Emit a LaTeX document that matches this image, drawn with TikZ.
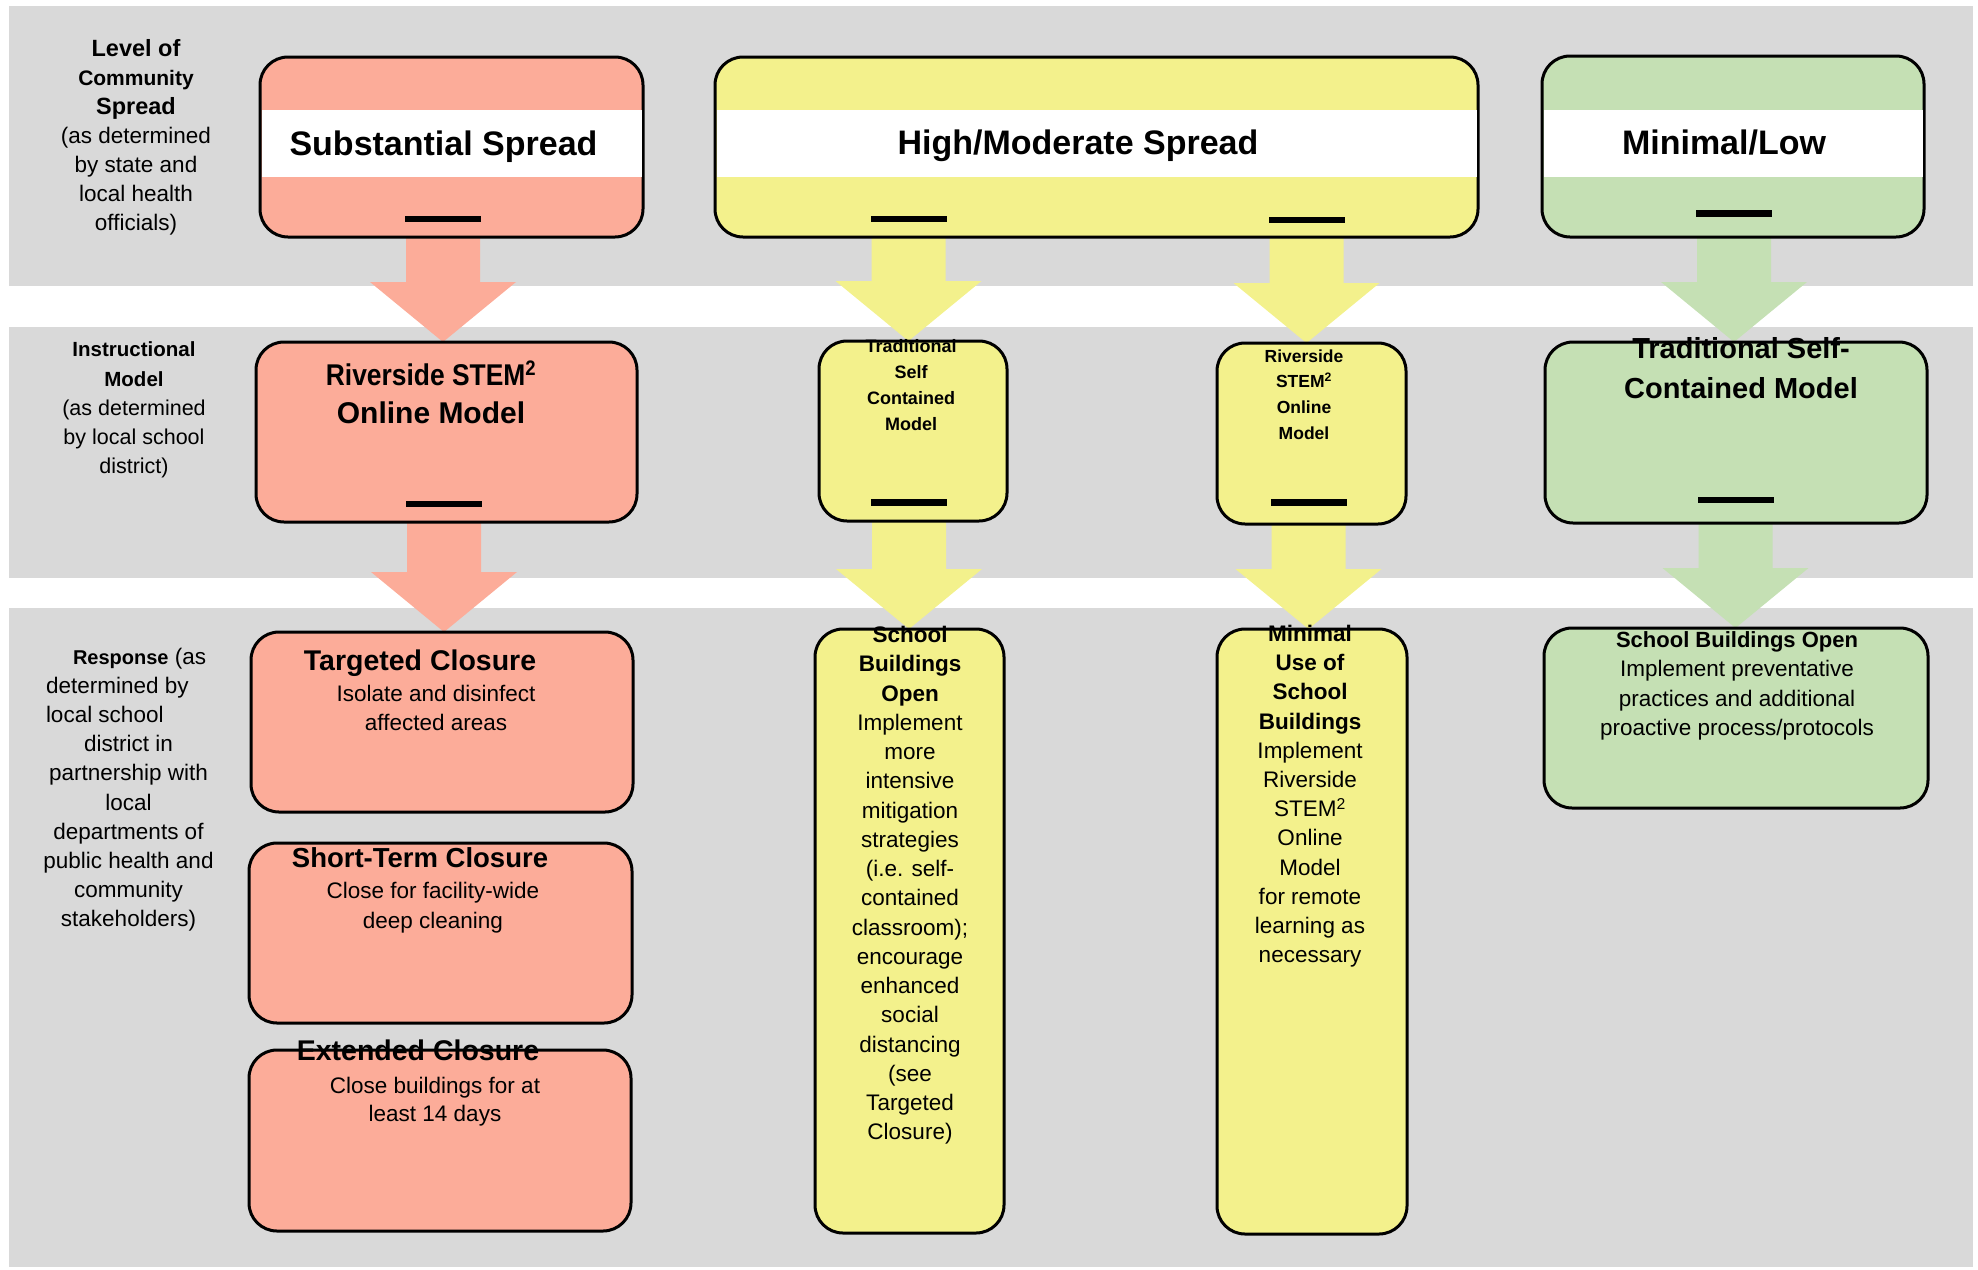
\documentclass[tikz,border=0pt]{standalone}
\usepackage{fontspec}
\setmainfont{Liberation Sans}
\usetikzlibrary{calc}
\definecolor{bandgray}{RGB}{217,217,217}
\definecolor{salmon}{RGB}{252,172,153}
\definecolor{yel}{RGB}{243,241,140}
\definecolor{grn}{RGB}{197,224,180}
\pgfdeclarelayer{back}
\pgfdeclarelayer{arrlayer}
\pgfsetlayers{back,arrlayer,main}
\newcommand{\fs}[2]{\fontsize{#1}{#2}\selectfont}
\newcommand{\mlines}[1]{\begin{tabular}[t]{@{}c@{}}#1\end{tabular}}
\newcommand{\mlinesl}[1]{\begin{tabular}[t]{@{}l@{}}#1\end{tabular}}
\newcommand{\blockarr}[3]{%
  \fill[#1] let \p1=(#2), \p2=(#3) in
    (\x1-37pt,\y1) -- (\x1+37pt,\y1) -- (\x1+37pt,\y2+60pt) -- (\x1+73pt,\y2+60pt)
    -- (\x1,\y2) -- (\x1-73pt,\y2+60pt) -- (\x1-37pt,\y2+60pt) -- cycle;}
\tikzset{
  box/.style={rectangle, draw=black, line width=3pt, rounded corners=28pt, inner sep=0pt, outer sep=0pt},
  barmark/.style={rectangle, fill=black, inner sep=0pt, outer sep=0pt, minimum width=76pt, minimum height=6.5pt},
  txt/.style={inner sep=0pt, outer sep=0pt, anchor=base},
  txtl/.style={inner sep=0pt, outer sep=0pt, anchor=base west}
}
\begin{document}
\begin{tikzpicture}[x=1pt,y=-1pt]
\useasboundingbox (0,0) rectangle (1978,1269);
\begin{pgfonlayer}{back}
\fill[bandgray] (9,6) rectangle (1973,286);
\fill[bandgray] (9,327) rectangle (1973,578);
\fill[bandgray] (9,608) rectangle (1973,1267);
\end{pgfonlayer}

% top row
\node[box, fill=salmon, minimum width=383pt, minimum height=180pt] (ss) at (451.5,147) {};
\node[box, fill=yel, minimum width=763pt, minimum height=180pt] (hm) at (1096.5,147) {};
\node[box, fill=grn, minimum width=382pt, minimum height=181pt] (ml) at (1733,146.5) {};
\fill[white] (261.5,110) rectangle (641.5,177);
\fill[white] (716.5,110) rectangle (1476.5,177);
\fill[white] (1543.5,110) rectangle (1922.5,177);

% middle row
\node[box, fill=salmon, minimum width=381pt, minimum height=180pt] (rso) at (446.5,432) {};
\node[box, fill=yel, minimum width=188pt, minimum height=180pt] (tsc) at (913,431) {};
\node[box, fill=yel, minimum width=189pt, minimum height=181pt] (rsy) at (1311.5,433.5) {};
\node[box, fill=grn, minimum width=382pt, minimum height=181pt] (gtsc) at (1736,432.5) {};

% bottom row
\node[box, fill=salmon, minimum width=382pt, minimum height=180pt] (tc) at (442,722) {};
\node[box, fill=salmon, minimum width=383pt, minimum height=180pt] (stc) at (440.5,933) {};
\node[box, fill=salmon, minimum width=382pt, minimum height=181pt] (ec) at (440,1140.5) {};
\node[box, fill=yel, minimum width=189pt, minimum height=604pt] (sbo) at (909.5,931) {};
\node[box, fill=yel, minimum width=190pt, minimum height=605pt] (mus) at (1312,931.5) {};
\node[box, fill=grn, minimum width=384pt, minimum height=180pt] (gsbo) at (1736,718) {};

% bars
\node[barmark] (bss) at (443,219) {};
\node[barmark] (bhma) at (908.5,219) {};
\node[barmark] (bhmb) at (1306.5,220) {};
\node[barmark] (bml) at (1734,213.5) {};
\node[barmark] (brso) at (444,504) {};
\node[barmark] (btsc) at (909,502.5) {};
\node[barmark] (brsy) at (1308.5,502.5) {};
\node[barmark] (bgtsc) at (1735.5,500) {};

% block arrows
\begin{pgfonlayer}{arrlayer}
\blockarr{salmon}{bss}{rso.north}
\blockarr{yel}{bhma}{tsc.north}
\blockarr{yel}{bhmb}{rsy.north}
\blockarr{grn}{bml}{gtsc.north}
\blockarr{salmon}{brso}{tc.north}
\blockarr{yel}{btsc}{sbo.north}
\blockarr{yel}{brsy}{mus.north}
\blockarr{grn}{bgtsc}{gsbo.north}
\end{pgfonlayer}

% top titles
\node[txt, font=\fs{34}{40}\bfseries] (tss) at (443.5,155) {Substantial Spread};
\node[txt, font=\fs{34}{40}\bfseries] (thm) at (1078,154.5) {High/Moderate Spread};
\node[txt, font=\fs{34}{40}\bfseries] (tml) at (1724,154.5) {Minimal/Low};

% middle texts
\node[txt, font=\fs{30}{38}\bfseries] (trso) at (431,385) {\mlines{\scalebox{0.88}[1]{Riverside STEM\textsuperscript{2}}\\Online Model}};
\node[txt, font=\fs{18}{26}\bfseries] (ttsc) at (911,352) {\mlines{Traditional\\Self\\Contained\\Model}};
\node[txt, font=\fs{17.5}{25.7}\bfseries] (trsy) at (1304,362) {\mlines{Riverside\\STEM\textsuperscript{2}\\Online\\Model}};
\node[txt, font=\fs{29}{40}\bfseries] (tgtsc) at (1741,358) {\mlines{Traditional Self-\\Contained Model}};

% bottom texts
\node[txt, font=\fs{28.5}{32}\bfseries] (ttc) at (420,670) {Targeted Closure};
\node[txt, font=\fs{22.5}{29}] (btc) at (436,701.5) {\mlines{Isolate and disinfect\\affected areas}};
\node[txt, font=\fs{27.5}{32}\bfseries] (tstc) at (420,867) {Short-Term Closure};
\node[txt, font=\fs{22.5}{29.5}] (bstc) at (433,898.6) {\mlines{Close for facility-wide\\deep cleaning}};
\node[txt, font=\fs{28.5}{32}\bfseries] (tec) at (418,1060) {Extended Closure};
\node[txt, font=\fs{22.5}{28.5}] (bec) at (435,1093) {\mlines{Close buildings for at\\least 14 days}};

\node[txt, font=\fs{22.5}{29.24}] (tsbo) at (910,642.7) {\mlines{\textbf{School}\\\textbf{Buildings}\\\textbf{Open}\\Implement\\more\\intensive\\mitigation\\strategies\\(i.e. self-\\contained\\classroom);\\encourage\\enhanced\\social\\distancing\\(see\\Targeted\\Closure)}};
\node[txt, font=\fs{22.5}{29.2}] (tmus) at (1310,641.4) {\mlines{\textbf{Minimal}\\\textbf{Use of}\\\textbf{School}\\\textbf{Buildings}\\Implement\\Riverside\\STEM\textsuperscript{2}\\Online\\Model\\for remote\\learning as\\necessary}};
\node[txt, font=\fs{22.5}{29.2}] (tgsbo) at (1737,647.7) {\mlines{{\fs{22}{29.2}\bfseries School Buildings Open}\\Implement preventative\\practices and additional\\proactive process/protocols}};

% left labels
\node[txt, font=\fs{22.5}{29}] (lab1) at (136,56) {\mlines{{\fs{23.5}{29}\bfseries Level of}\\{\fs{21}{29}\bfseries Community}\\{\fs{23.5}{29}\bfseries Spread}\\(as determined\\by state and\\local health\\officials)}};
\node[txt, font=\fs{21.5}{29.3}] (lab2) at (134,356.7) {\mlines{{\fs{20.5}{29.3}\bfseries Instructional}\\{\fs{20.5}{29.3}\bfseries Model}\\(as determined\\by local school\\district)}};
\node[txtl, font=\fs{22.5}{29.2}] (lab3) at (46,664) {\mlinesl{\hspace*{27pt}{\fs{20}{29.2}\bfseries Response} (as\\determined by\\local school\\\makebox[165pt][c]{district in}\\\makebox[165pt][c]{partnership with}\\\makebox[165pt][c]{local}\\\makebox[165pt][c]{departments of}\\\makebox[165pt][c]{public health and}\\\makebox[165pt][c]{community}\\\makebox[165pt][c]{stakeholders)}}};
\end{tikzpicture}
\end{document}
